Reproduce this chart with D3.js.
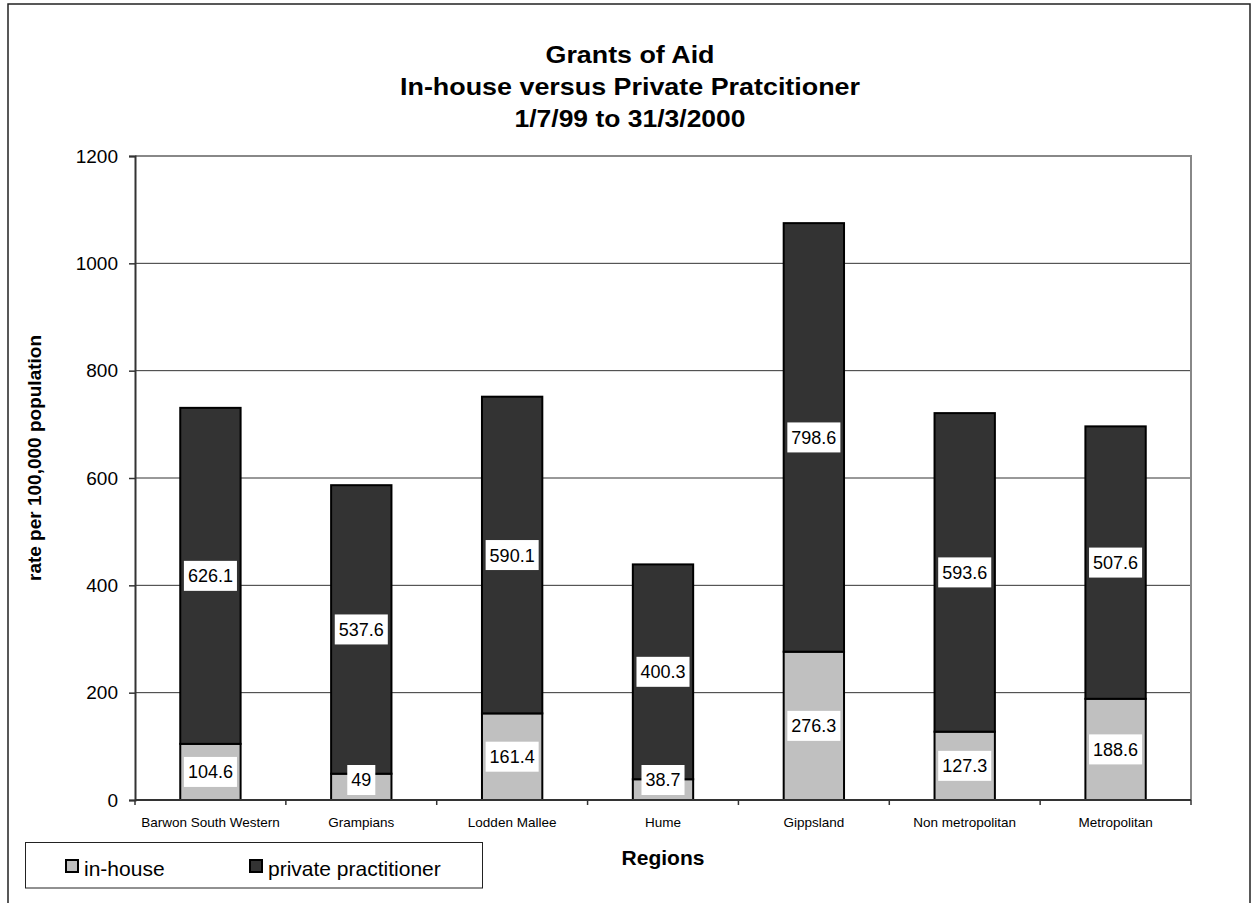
<!DOCTYPE html>
<html>
<head>
<meta charset="utf-8">
<script src="https://cdn.jsdelivr.net/npm/d3@7"></script>
<style>
  body { margin: 0; background: #fff; }
  svg { display: block; font-family: Arial, "Liberation Sans", Helvetica, sans-serif; }
</style>
</head>
<body>
<svg id="chart" width="1251" height="903"></svg>
<script>
// Regions and grant rates (per 100,000 population)
const categories = ["Barwon South Western", "Grampians", "Lodden Mallee", "Hume", "Gippsland", "Non metropolitan", "Metropolitan"];
const inHouse = [104.6, 49, 161.4, 38.7, 276.3, 127.3, 188.6];
const privatePractitioner = [626.1, 537.6, 590.1, 400.3, 798.6, 593.6, 507.6];
const seriesNames = ["in-house", "private practitioner"];
const yTicks = [0, 200, 400, 600, 800, 1000, 1200];
const titleLines = ["Grants of Aid", "In-house versus Private Pratcitioner", "1/7/99 to 31/3/2000"];
const yAxisTitle = "rate per 100,000 population";
const xAxisTitle = "Regions";

const colors = { "in-house": "#c0c0c0", "private practitioner": "#333333" };

const svg = d3.select("#chart");
const plot = { left: 135, right: 1191, top: 156, bottom: 800 };

// Outer chart frame (bottom edge runs off the page)
svg.append("rect")
  .attr("x", 8).attr("y", 4).attr("width", 1242).attr("height", 920)
  .attr("fill", "#fff").attr("stroke", "#222").attr("stroke-width", 1.5);

const rows = categories.map((c, i) => ({
  region: c,
  "in-house": inHouse[i],
  "private practitioner": privatePractitioner[i]
}));
const stacked = d3.stack().keys(seriesNames)(rows);

const x = d3.scaleBand()
  .domain(categories)
  .range([plot.left, plot.right])
  .paddingInner(0.6)
  .paddingOuter(0.3);
const y = d3.scaleLinear().domain([0, 1200]).range([plot.bottom, plot.top]);

// Horizontal gridlines
svg.append("g").selectAll("line")
  .data(yTicks.filter(t => t > 0 && t < 1200))
  .join("line")
  .attr("x1", plot.left).attr("x2", plot.right)
  .attr("y1", d => y(d)).attr("y2", d => y(d))
  .attr("stroke", "#333").attr("stroke-width", 1);

// Plot area border (top and right in grey)
svg.append("path")
  .attr("d", `M${plot.left},${y(1200)}H${plot.right}V${plot.bottom}`)
  .attr("fill", "none").attr("stroke", "#888").attr("stroke-width", 2);

// Stacked bars
const layers = svg.append("g").selectAll("g")
  .data(stacked)
  .join("g")
  .attr("fill", d => colors[d.key]);
layers.selectAll("rect")
  .data(d => d)
  .join("rect")
  .attr("x", d => x(d.data.region))
  .attr("width", x.bandwidth())
  .attr("y", d => y(d[1]))
  .attr("height", d => y(d[0]) - y(d[1]))
  .attr("stroke", "#000").attr("stroke-width", 2);

// Y axis
const yAxis = svg.append("g")
  .attr("transform", `translate(${plot.left},0)`)
  .call(d3.axisLeft(y).tickValues(yTicks).tickSize(6).tickPadding(11).tickFormat(d3.format("d")));
yAxis.select(".domain").attr("stroke", "#333").attr("stroke-width", 2);
yAxis.selectAll(".tick line").attr("stroke", "#333").attr("stroke-width", 1.5);
yAxis.selectAll(".tick text").attr("font-size", 19).attr("fill", "#000")
  .attr("font-family", "Arial, 'Liberation Sans', sans-serif");

// X axis: ticks at category boundaries, labels at band centres
const xAxisG = svg.append("g");
xAxisG.append("line")
  .attr("x1", plot.left).attr("x2", plot.right)
  .attr("y1", plot.bottom).attr("y2", plot.bottom)
  .attr("stroke", "#333").attr("stroke-width", 2);
const step = x.step();
xAxisG.selectAll("line.tick")
  .data(d3.range(categories.length + 1))
  .join("line")
  .attr("class", "tick")
  .attr("x1", i => plot.left + i * step).attr("x2", i => plot.left + i * step)
  .attr("y1", plot.bottom).attr("y2", plot.bottom + 5)
  .attr("stroke", "#333").attr("stroke-width", 1.5);
xAxisG.selectAll("text")
  .data(categories)
  .join("text")
  .attr("x", d => x(d) + x.bandwidth() / 2)
  .attr("y", 827)
  .attr("text-anchor", "middle")
  .attr("font-size", 13.5)
  .attr("fill", "#000")
  .text(d => d);

// Value labels in white boxes
const labelH = 30;
const labels = [];
stacked.forEach(layer => {
  layer.forEach(d => {
    const val = d[1] - d[0];
    let cy = y((d[0] + d[1]) / 2);
    cy = Math.min(cy, plot.bottom - 20);
    labels.push({ x: x(d.data.region) + x.bandwidth() / 2, cy, text: d3.format("")(+val.toFixed(1)) });
  });
});
const lg = svg.append("g").selectAll("g").data(labels).join("g");
lg.append("text")
  .attr("x", d => d.x).attr("y", d => d.cy)
  .attr("dy", "0.36em")
  .attr("text-anchor", "middle")
  .attr("font-size", 18)
  .attr("fill", "#000")
  .text(d => d.text)
  .each(function (d) { d.w = this.getComputedTextLength(); });
lg.insert("rect", "text")
  .attr("x", d => d.x - d.w / 2 - 4)
  .attr("y", d => d.cy - labelH / 2)
  .attr("width", d => d.w + 8)
  .attr("height", labelH)
  .attr("fill", "#fff");

// Title
const titleLengths = [169, 460, 231];
const titleBaselines = [63, 95, 127];
svg.append("g").selectAll("text")
  .data(titleLines)
  .join("text")
  .attr("x", 630)
  .attr("y", (d, i) => titleBaselines[i])
  .attr("text-anchor", "middle")
  .attr("font-size", 24)
  .attr("font-weight", "bold")
  .attr("textLength", (d, i) => titleLengths[i])
  .attr("lengthAdjust", "spacingAndGlyphs")
  .attr("fill", "#000")
  .text(d => d);

// Axis titles
svg.append("text")
  .attr("transform", "translate(41,458) rotate(-90)")
  .attr("text-anchor", "middle")
  .attr("font-size", 19)
  .attr("font-weight", "bold")
  .attr("fill", "#000")
  .text(yAxisTitle);
svg.append("text")
  .attr("x", (plot.left + plot.right) / 2)
  .attr("y", 865)
  .attr("text-anchor", "middle")
  .attr("font-size", 21)
  .attr("font-weight", "bold")
  .attr("fill", "#000")
  .text(xAxisTitle);

// Legend
const legend = svg.append("g");
legend.append("rect")
  .attr("x", 25.5).attr("y", 842.5).attr("width", 457).attr("height", 45.5)
  .attr("fill", "#fff").attr("stroke", "#222").attr("stroke-width", 1);
const legendX = [66, 250];
const items = legend.selectAll("g.item").data(seriesNames).join("g").attr("class", "item")
  .attr("transform", (d, i) => `translate(${legendX[i]},860)`);
items.append("rect")
  .attr("width", 12).attr("height", 12)
  .attr("fill", d => colors[d]).attr("stroke", "#000").attr("stroke-width", 2);
items.append("text")
  .attr("x", 18).attr("y", 16)
  .attr("font-size", 21)
  .attr("fill", "#000")
  .text(d => d);
</script>
</body>
</html>
